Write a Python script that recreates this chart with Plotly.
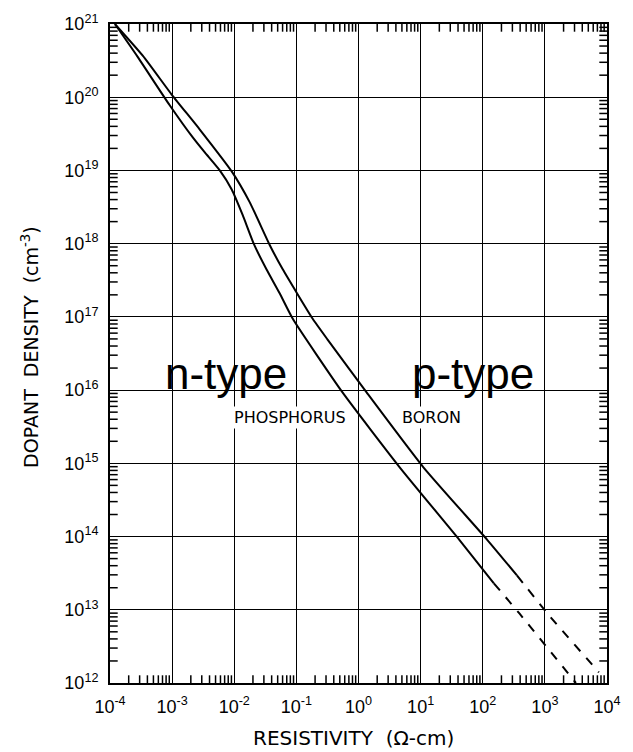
import plotly.graph_objects as go

# Boron (p-type) curve, solid part then dashed extrapolation
boron_rho = [1.2e-4, 3.39e-4, 9.9e-4, 2.79e-3, 9.1e-3, 1.77e-2, 3.72e-2, 6.0e-2, 0.182,
             0.318, 1.35, 11.0, 117, 355]
boron_N = [1e21, 3.67e20, 1.08e20, 3.62e19, 9.7e18, 3.69e18, 9.6e17, 4.5e17, 9.5e16,
           4.9e16, 9.3e15, 8.9e14, 9.1e13, 2.95e13]
boron_rho_dash = [355, 1.1e3, 7.4e3]
boron_N_dash = [2.95e13, 8.9e12, 1.4e12]

# Phosphorus (n-type) curve
phos_rho = [1.2e-4, 2.72e-4, 9.2e-4, 2.15e-3, 3.36e-3, 5.85e-3, 9.1e-3, 1.37e-2, 2.1e-2, 3.33e-2, 5.38e-2,
            8.7e-2, 0.553, 4.57, 41.7, 151]
phos_N = [1e21, 3.67e20, 7.7e19, 2.82e19, 1.76e19, 1.0e19, 5.5e18, 2.45e18, 9.6e17, 4.4e17, 2.1e17,
          9.5e16, 9.3e15, 8.9e14, 9.1e13, 2.3e13]
phos_rho_dash = [151, 389, 3.16e3]
phos_N_dash = [2.3e13, 8.9e12, 1e12]

x_exps = [-4, -3, -2, -1, 0, 1, 2, 3, 4]
y_exps = [12, 13, 14, 15, 16, 17, 18, 19, 20, 21]

def lab(e):
    return "10<sup>" + ("-" if e < 0 else "") + str(abs(e)) + "</sup>"

def minor_vals(exps):
    return [m * 10.0 ** e for e in exps[:-1] for m in range(2, 10)]

fig = go.Figure()
for xs, ys, dash in [(boron_rho, boron_N, "solid"), (boron_rho_dash, boron_N_dash, "dash"),
                     (phos_rho, phos_N, "solid"), (phos_rho_dash, phos_N_dash, "dash")]:
    fig.add_trace(go.Scatter(x=xs, y=ys, mode="lines",
                             line=dict(color="black", width=2, dash=dash, shape="spline", smoothing=0.5),
                             showlegend=False, hoverinfo="skip"))

# minor tick marks on all four frame edges (half of each mark is clipped by the plot area)
xmin, xmax = 10.0 ** x_exps[0], 10.0 ** x_exps[-1]
ymin, ymax = 10.0 ** y_exps[0], 10.0 ** y_exps[-1]
xm = minor_vals(x_exps)
ym = minor_vals(y_exps)
tick_marker = dict(size=11, color="black", line=dict(width=1.5, color="black"))
fig.add_trace(go.Scatter(x=xm + xm, y=[ymin] * len(xm) + [ymax] * len(xm), mode="markers",
                         marker=dict(symbol="line-ns", **tick_marker), cliponaxis=True,
                         showlegend=False, hoverinfo="skip"))
fig.add_trace(go.Scatter(x=[xmin] * len(ym) + [xmax] * len(ym), y=ym + ym, mode="markers",
                         marker=dict(symbol="line-ew", **tick_marker), cliponaxis=True,
                         showlegend=False, hoverinfo="skip"))

tickfont = dict(family="Liberation Sans", size=18, color="black")
common = dict(type="log", showline=True, linecolor="black", linewidth=2, mirror=True,
              showgrid=True, gridcolor="black", gridwidth=1.3, zeroline=False,
              ticks="", tickfont=tickfont, ticklabelstandoff=6, tickmode="array")

fig.update_layout(
    xaxis=dict(range=[x_exps[0], x_exps[-1]], tickvals=[10.0**e for e in x_exps],
               ticktext=[lab(e) for e in x_exps], **common),
    yaxis=dict(range=[y_exps[0], y_exps[-1]], tickvals=[10.0**e for e in y_exps],
               ticktext=[lab(e) for e in y_exps], **common),
)

small = dict(family="DejaVu Sans", size=16, color="black")
big = dict(family="Liberation Sans", size=44, color="black")
fig.add_annotation(x=-2.137, y=16.23, text="n-type", showarrow=False, font=big)
fig.add_annotation(x=1.85, y=16.23, text="p-type", showarrow=False, font=big)
fig.add_annotation(x=-1.11, y=15.62, text="PHOSPHORUS", showarrow=False, font=small, bgcolor="white",
                   borderpad=1)
fig.add_annotation(x=1.17, y=15.62, text="BORON", showarrow=False, font=small, bgcolor="white",
                   borderpad=1)

fig.add_annotation(xref="paper", yref="paper", x=0.49, y=-0.083, text="RESISTIVITY  (Ω-cm)",
                   showarrow=False, font=dict(family="DejaVu Sans", size=20, color="black"),
                   xanchor="center", yanchor="middle")
fig.add_annotation(xref="paper", yref="paper", x=-0.161, y=0.51, text="DOPANT  DENSITY  (cm<sup>-3</sup>)",
                   showarrow=False, textangle=-90, font=dict(family="DejaVu Sans", size=19, color="black"),
                   xanchor="center", yanchor="middle")

fig.update_layout(width=633, height=752, margin=dict(l=110, r=25, t=21, b=69),
                  plot_bgcolor="white", paper_bgcolor="white")
fig.write_html("out.html")
